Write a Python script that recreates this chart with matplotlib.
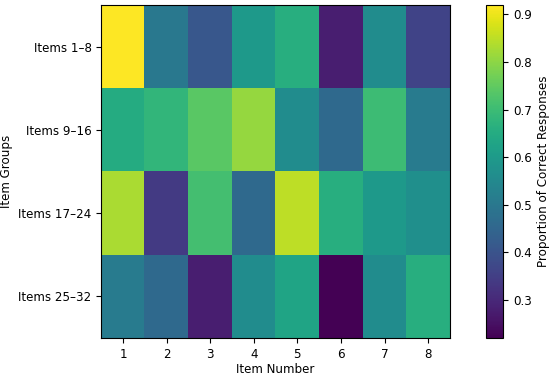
import numpy as np
from matplotlib import pyplot as plt

# Данные: доля правильных ответов по группам заданий.
groups = ['Items 1–8', 'Items 9–16', 'Items 17–24', 'Items 25–32']
items = [1, 2, 3, 4, 5, 6, 7, 8]

row_1_8 = [0.92, 0.50, 0.41, 0.60, 0.66, 0.28, 0.56, 0.36]
row_9_16 = [0.65, 0.68, 0.74, 0.81, 0.56, 0.46, 0.70, 0.51]
row_17_24 = [0.83, 0.34, 0.71, 0.46, 0.85, 0.66, 0.60, 0.57]
row_25_32 = [0.51, 0.46, 0.28, 0.56, 0.63, 0.22, 0.56, 0.66]

values = np.array([row_1_8, row_9_16, row_17_24, row_25_32])

plt.rcParams['font.size'] = 8.6

fig = plt.figure(figsize=(5.5, 3.8), dpi=100)
ax = fig.add_axes([0.184, 0.111, 0.634, 0.876])
cax = fig.add_axes([0.884, 0.111, 0.031, 0.876])

im = ax.imshow(values, cmap='viridis', aspect='auto')
ax.set_xticks(range(len(items)))
ax.set_xticklabels([str(i) for i in items])
ax.set_yticks(range(len(groups)))
ax.set_yticklabels(groups)
ax.set_xlabel('Item Number', labelpad=2)
ax.set_ylabel('Item Groups')

cb = fig.colorbar(im, cax=cax)
cb.set_label('Proportion of Correct Responses')

fig.savefig('out.png', dpi=100)
